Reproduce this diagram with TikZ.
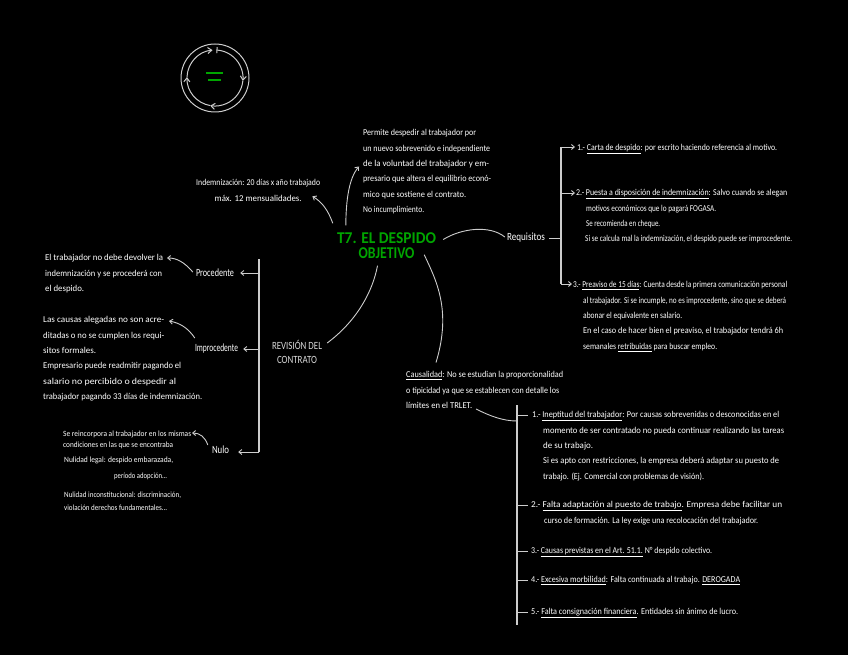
\documentclass[tikz,border=0pt]{standalone}
\usepackage{fontspec}
\usepackage{graphicx}
\usetikzlibrary{arrows.meta}
\setmainfont{Carlito}
\definecolor{lin}{RGB}{205,205,205}
\definecolor{grn}{RGB}{0,165,0}
\newcommand{\tl}[2]{\rule[-2pt]{0pt}{10pt}\resizebox{#1pt}{\height}{#2}}
\newcommand{\ul}[1]{\underline{#1}}
\tikzset{
  txt/.style={font=\fontsize{9}{15.4}\selectfont,align=left,inner sep=0pt,anchor=north west,text=white},
  lab/.style={font=\fontsize{11}{14.4}\selectfont,align=center,inner sep=0pt,anchor=center,text=white},
  ttl/.style={font=\fontsize{16.5}{15}\selectfont\bfseries,align=center,inner sep=0pt,anchor=center,text=grn},
  conn/.style={draw=lin,line width=0.9pt},
  brk/.style={draw=lin,line width=1.3pt},
  arw/.style={conn,-{Straight Barb[length=3pt,width=5pt]}},
  ring/.style={draw=lin,line width=1pt},
  ringarw/.style={draw=lin,line width=1pt,-{Straight Barb[length=4pt,width=6pt]}},
  dashg/.style={draw=grn,line width=1.2pt}
}
\begin{document}
\begin{tikzpicture}[x=1pt,y=-1pt]
\fill[black] (0,0) rectangle (848,655);
\useasboundingbox (0,0) rectangle (848,655);
% cycle emblem
\coordinate (c) at (215,78);
\draw[ring] (c) circle (34pt);
\draw[ringarw] ([shift={(86:28pt)}]c) arc[start angle=86,end angle=-6,radius=28pt];
\draw[ringarw] ([shift={(-6:28pt)}]c) arc[start angle=-6,end angle=-100,radius=28pt];
\draw[ringarw] ([shift={(-100:28pt)}]c) arc[start angle=-100,end angle=-182,radius=28pt];
\draw[ringarw] ([shift={(-182:28pt)}]c) arc[start angle=-182,end angle=-265,radius=28pt];
\draw[ring] ([shift={(86:25pt)}]c) -- ([shift={(86:31pt)}]c);
\draw[dashg] (206,73) -- (223,73);
\draw[dashg] (208,80) -- (221,80);
% title
\node[ttl] (title) at (386.5,245.5) {\resizebox{99pt}{\height}{T7. EL DESPIDO}\\\resizebox{56pt}{\height}{OBJETIVO}};
% upper notes
\node[txt] (permite) at (363,127.5) {\tl{113}{Permite despedir al trabajador por}\\\tl{127}{un nuevo sobrevenido e independiente}\\\tl{126}{de la voluntad del trabajador y em-}\\\tl{128}{presario que altera el equilibrio econó-}\\\tl{103}{mico que sostiene el contrato.}\\\tl{61}{No incumplimiento.}};
\node[txt,align=center] (indem) at (196,177.5) {\tl{124}{Indemnización: 20 días x año trabajado}\\\tl{87}{máx. 12 mensualidades.}};
% requisitos
\node[lab] (req) at (526,238) {\resizebox{38pt}{\height}{Requisitos}};
\node[txt] (r1) at (577,142.5) {\tl{200}{1.- \ul{Carta de despido}: por escrito haciendo referencia al motivo.}};
\node[txt] (r2) at (576,187.5) {\tl{211}{2.- \ul{Puesta a disposición de indemnización}: Salvo cuando se alegan}\\\hspace*{10pt}\tl{130}{motivos económicos que lo pagará FOGASA.}\\\hspace*{10pt}\tl{74}{Se recomienda en cheque.}\\\hspace*{9pt}\tl{207}{Si se calcula mal la indemnización, el despido puede ser improcedente.}};
\node[txt] (r3) at (573,279.5) {\tl{214}{3.- \ul{Preaviso de 15 días}: Cuenta desde la primera comunicación personal}\\\hspace*{10pt}\tl{203}{al trabajador. Si se incumple, no es improcedente, sino que se deberá}\\\hspace*{10pt}\tl{99}{abonar el equivalente en salario.}\\\hspace*{10pt}\tl{200}{En el caso de hacer bien el preaviso, el trabajador tendrá 6h}\\\hspace*{10pt}\tl{134}{semanales \ul{retribuidas} para buscar empleo.}};
\coordinate (rt) at (561,147);
\coordinate (rm) at (561,238);
\coordinate (rb) at (561,284);
\coordinate (ra1) at (575,147);
\coordinate (ra2) at (575,193);
\coordinate (ra3) at (572,284);
\draw[brk] (rt) -- (rb);
\draw[conn] (req.east)+(4,0) -- (rm);
\draw[arw] (rt) -- (ra1);
\draw[arw] (rt |- ra2) -- (ra2);
\draw[arw] (rb) -- (ra3);
% revision
\node[lab,text=white!85!black] (rev) at (297,352) {\resizebox{50pt}{\height}{REVISIÓN DEL}\\\resizebox{40pt}{\height}{CONTRATO}};
\node[lab] (proc) at (215,273) {\resizebox{38pt}{\height}{Procedente}};
\node[lab] (impr) at (216.5,349) {\resizebox{43pt}{\height}{Improcedente}};
\node[lab] (nulo) at (220.5,450) {\resizebox{17pt}{\height}{Nulo}};
\node[txt] (ptx) at (45,252.5) {\tl{118}{El trabajador no debe devolver la}\\\tl{117}{indemnización y se procederá con}\\\tl{39}{el despido.}};
\node[txt] (itx) at (43,314.5) {\tl{121}{Las causas alegadas no son acre-}\\\tl{121}{ditadas o no se cumplen los requi-}\\\tl{53}{sitos formales.}\\\tl{138}{Empresario puede readmitir pagando el}\\\tl{133}{salario no percibido o despedir al}\\\tl{159}{trabajador pagando 33 días de indemnización.}};
\node[txt,font=\fontsize{8}{15.4}\selectfont] (ntx) at (63,428.5) {\tl{128}{Se reincorpora al trabajador en los mismas}\\[-4.4pt]\tl{110}{condiciones en las que se encontraba}\\[-0.4pt]\hspace*{1pt}\tl{109}{Nulidad legal: despido embarazada,}\\[0.6pt]\hspace*{51pt}\tl{53}{período adopción...}\\[3.6pt]\hspace*{1pt}\tl{117}{Nulidad inconstitucional: discriminación,}\\[-2.4pt]\hspace*{1pt}\tl{103}{violación derechos fundamentales...}};
\coordinate (vt) at (259,259);
\coordinate (vb) at (259,452);
\coordinate (va1) at (259,273);
\coordinate (va2) at (259,349);
\draw[brk] (vt) -- (vb);
\draw[arw] (va1) -- ([xshift=6pt]proc.east);
\draw[arw] (va2) -- ([xshift=5pt]impr.east);
\draw[arw] (vb) -- ([shift={(9,2)}]nulo.east);
\coordinate (pe) at (167,258);
\coordinate (ie) at (169,321);
\coordinate (ne) at (192,433);
\draw[arw] ([shift={(-3,-1)}]proc.west) .. controls (184,262) and (177,258) .. (pe);
\draw[arw] ([shift={(0,-11)}]impr.west) .. controls (188,328) and (180,323) .. (ie);
\draw[arw] ([shift={(-4,-5)}]nulo.west) .. controls (205,437) and (200,433) .. (ne);
\draw[conn] ([shift={(-9,7)}]title.south) .. controls (373,290) and (358,320) .. ([shift={(5,-9)}]rev.east);
% causalidad
\node[txt] (cau) at (406,369.5) {\tl{157}{\ul{Causalidad}: No se estudian la proporcionalidad}\\\tl{153}{o tipicidad ya que se establecen con detalle los}\\\tl{66}{límites en el TRLET.}};
\node[txt] (f1) at (532,409.5) {\tl{247}{1.- \ul{Ineptitud del trabajador}: Por causas sobrevenidas o desconocidas en el}\\\hspace*{11pt}\tl{241}{momento de ser contratado no pueda continuar realizando las tareas}\\\hspace*{11pt}\tl{50}{de su trabajo.}\\\hspace*{11pt}\tl{236}{Si es apto con restricciones, la empresa deberá adaptar su puesto de}\\\hspace*{11pt}\tl{161}{trabajo. (Ej. Comercial con problemas de visión).}};
\node[txt] (f2) at (531,499.5) {\tl{251}{2.- \ul{Falta adaptación al puesto de trabajo}. Empresa debe facilitar un}\\\hspace*{13pt}\tl{214}{curso de formación. La ley exige una recolocación del trabajador.}};
\node[txt] (f3) at (531,545.5) {\tl{181}{3.- \ul{Causas previstas en el Art. 51.1.} N° despido colectivo.}};
\node[txt] (f4) at (531,574.5) {\tl{209}{4.- \ul{Excesiva morbilidad}: Falta continuada al trabajo. \ul{DEROGADA}}};
\node[txt] (f5) at (531,606.5) {\tl{207}{5.- \ul{Falta consignación financiera}. Entidades sin ánimo de lucro.}};
\coordinate (ct) at (517,405);
\coordinate (cb) at (517,625);
\coordinate (cj) at (517,421);
\draw[brk] (ct) -- (cb);
\draw[conn] (ct |- 0,415) -- (528,415);
\draw[conn] (ct |- 0,505) -- (528,505);
\draw[conn] (ct |- 0,551) -- (528,551);
\draw[conn] (ct |- 0,580) -- (528,580);
\draw[conn] (ct |- 0,612) -- (528,612);
\draw[conn] ([shift={(70,39.5)}]cau.north west) .. controls (490,416) and (503,421) .. (cj);
% from title
\draw[arw] ([shift={(9,-7)}]title.north west) .. controls (346,200) and (349,178) .. ([shift={(-4,39)}]permite.north west);
\draw[arw] ([shift={(-4,-9)}]title.north west) .. controls (328,210) and (322,202) .. ([shift={(-8,-7)}]indem.south east);
\draw[conn] ([shift={(7,-6)}]title.east) .. controls (462,228) and (490,225) .. ([shift={(-2,-1)}]req.west);
\draw[conn] ([shift={(-12,-4)}]title.south east) .. controls (436,280) and (452,310) .. ([shift={(30,-7)}]cau.north west);
\end{tikzpicture}
\end{document}
